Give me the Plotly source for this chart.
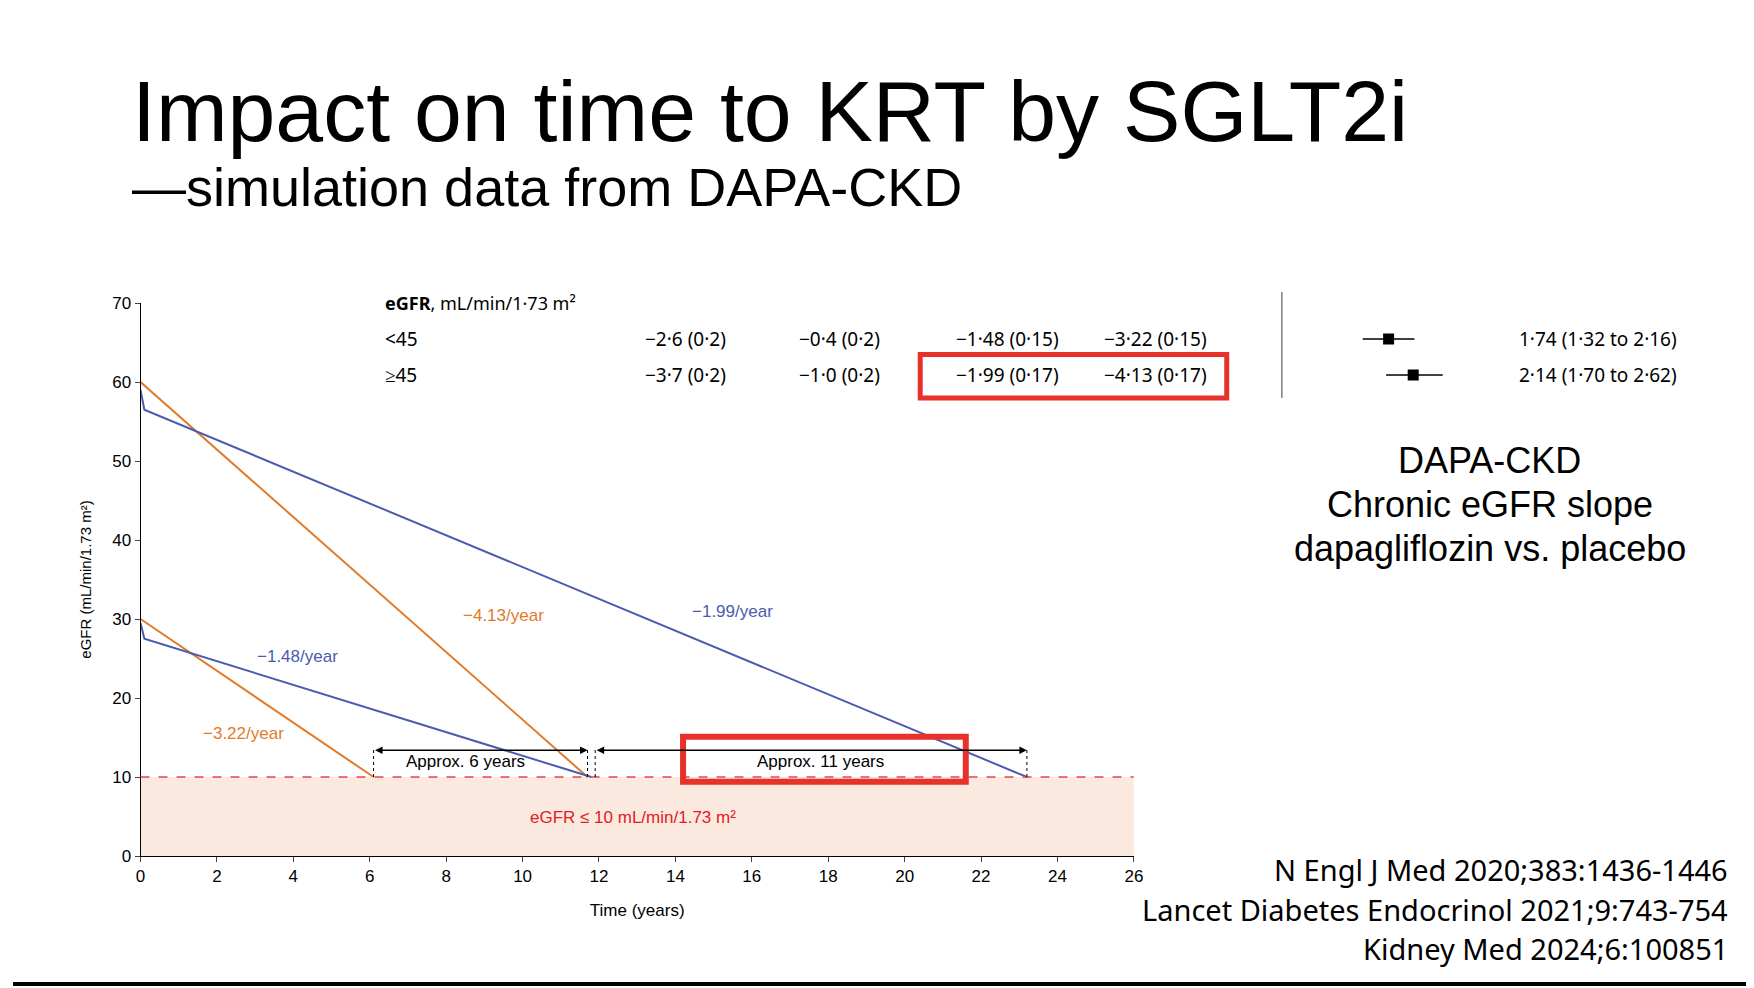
import plotly.graph_objects as go

W, H = 1754, 988
S = 1754 / 1568  # displayed->actual scale

def px(x): return ((x - 11) / 0.992) * S / W
def py(y): return 1 - ((y - 16) / 0.982) * S / H

# Data
years_low_dapa = [0, 0.1, 11.8]
egfr_low_dapa = [29.5, 27.5, 10]
years_low_plac = [0, 6.1]
egfr_low_plac = [30, 10]
years_high_dapa = [0, 0.1, 23.2]
egfr_high_dapa = [59, 56.5, 10]
years_high_plac = [0, 11.7]
egfr_high_plac = [60, 10]
threshold = 10
slope_labels = ["−4.13/year", "−1.99/year", "−1.48/year", "−3.22/year"]

table_rows = ["<45", "≥45"]
table_cols = [["−2·6 (0·2)", "−3·7 (0·2)"], ["−0·4 (0·2)", "−1·0 (0·2)"],
              ["−1·48 (0·15)", "−1·99 (0·17)"], ["−3·22 (0·15)", "−4·13 (0·17)"]]
col_x = [612, 750, 900, 1032]
hr = [1.74, 2.14]
hr_lo = [1.32, 1.70]
hr_hi = [2.16, 2.62]
hr_text = ["1·74 (1·32 to 2·16)", "2·14 (1·70 to 2·62)"]

ORANGE = "#E07B2A"
BLUE = "#4A5BB0"
RED = "#E8312A"

fig = go.Figure()
for xs, ys, c in [(years_high_plac, egfr_high_plac, ORANGE), (years_high_dapa, egfr_high_dapa, BLUE),
                  (years_low_plac, egfr_low_plac, ORANGE), (years_low_dapa, egfr_low_dapa, BLUE)]:
    fig.add_trace(go.Scatter(x=xs, y=ys, mode="lines", line=dict(color=c, width=2), showlegend=False))

# forest plot
for i in range(2):
    fig.add_trace(go.Scatter(x=[hr_lo[i], hr_hi[i]], y=[i + 1, i + 1], mode="lines",
                             line=dict(color="black", width=1.5), xaxis="x2", yaxis="y2", showlegend=False))
fig.add_trace(go.Scatter(x=hr, y=[1, 2], mode="markers", marker=dict(symbol="square", size=11, color="black"),
                         xaxis="x2", yaxis="y2", showlegend=False))

shapes = [
    dict(type="rect", xref="x", yref="y", x0=0, x1=26, y0=0, y1=threshold, fillcolor="#FBE9E0", line_width=0, layer="below"),
    dict(type="line", xref="x", yref="y", x0=0, x1=26, y0=threshold, y1=threshold, line=dict(color="#E8444A", width=1.5, dash="dash")),
    dict(type="line", xref="x2", yref="y2", x0=0, x1=0, y0=-0.31, y1=2.64, line=dict(color="black", width=1.5)),
    dict(type="rect", xref="paper", yref="paper", x0=px(822), x1=px(1096), y0=py(357), y1=py(318),
         line=dict(color=RED, width=5)),
    dict(type="rect", xref="x", yref="y", x0=14.2, x1=21.6, y0=9.4, y1=15.1, line=dict(color=RED, width=6)),
    dict(type="line", xref="paper", yref="paper", x0=0, x1=1, y0=py(881.5), y1=py(881.5), line=dict(color="black", width=4)),
]
for xv in [6.1, 11.7, 11.9, 23.2]:
    shapes.append(dict(type="line", xref="x", yref="y", x0=xv, x1=xv, y0=10, y1=13.8,
                       line=dict(color="black", width=1, dash="dot")))

ann = []
def A(x, y, text, size, color="black", xanchor="left", font="Liberation Sans", xref="paper", yref="paper", **kw):
    ann.append(dict(x=x, y=y, xref=xref, yref=yref, text=text, showarrow=False, xanchor=xanchor,
                    yanchor="middle", font=dict(size=size, color=color, family=font), **kw))

A(px(116), py(100), "Impact on time to KRT by SGLT2i", 86)
A(px(116), py(168), "—simulation data from DAPA-CKD", 54)
A(px(342), py(272), "<b>eGFR</b>, mL/min/1·73 m²", 18, font="Noto Sans")
for j, r in enumerate(table_rows):
    yy = py(304 + 32 * j)
    A(px(342), yy, r, 19, font="Noto Sans")
    for k, col in enumerate(table_cols):
        A(px(col_x[k]), yy, col[j], 19, xanchor="center", font="Noto Sans")
    A(px(1428), yy, hr_text[j], 19, xanchor="center", font="Noto Sans")
for k, t in enumerate(["DAPA-CKD", "Chronic eGFR slope", "dapagliflozin vs. placebo"]):
    A(px(1331), py(413 + 39.5 * k), t, 36, xanchor="center")
for k, t in enumerate(["N Engl J Med 2020;383:1436-1446", "Lancet Diabetes Endocrinol 2021;9:743-754", "Kidney Med 2024;6:100851"]):
    A(px(1546), py(779 + 35.5 * k), t, 29, xanchor="right", font="Noto Sans")

A(9.5, 30.5, slope_labels[0], 17, ORANGE, "center", xref="x", yref="y")
A(15.5, 31, slope_labels[1], 17, BLUE, "center", xref="x", yref="y")
A(4.1, 25.2, slope_labels[2], 17, BLUE, "center", xref="x", yref="y")
A(2.7, 15.5, slope_labels[3], 17, ORANGE, "center", xref="x", yref="y")
A(12.9, 4.9, "eGFR ≤ 10 mL/min/1.73 m²", 17, "#E02020", "center", xref="x", yref="y")
A(8.5, 12, "Approx. 6 years", 17, "black", "center", xref="x", yref="y")
A(17.8, 12, "Approx. 11 years", 17, "black", "center", xref="x", yref="y")
for a, b in [(6.1, 11.7), (11.9, 23.2)]:
    ann.append(dict(x=b, y=13.4, ax=a, ay=13.4, xref="x", yref="y", axref="x", ayref="y", text="",
                    showarrow=True, arrowhead=2, startarrowhead=2, arrowside="end+start",
                    arrowwidth=1.5, arrowcolor="black"))

fig.update_layout(
    width=W, height=H, autosize=False, margin=dict(l=0, r=0, t=0, b=0),
    paper_bgcolor="white", plot_bgcolor="white", font=dict(family="Liberation Sans", color="black"),
    shapes=shapes, annotations=ann,
    xaxis=dict(domain=[px(125), px(1013)], range=[0, 26], tickvals=list(range(0, 27, 2)), ticks="outside",
               showgrid=False, zeroline=False, showline=True, linecolor="black", tickfont=dict(size=17),
               title=dict(text="Time (years)", font=dict(size=17), standoff=18)),
    yaxis=dict(domain=[py(767), py(272)], range=[0, 70], tickvals=list(range(0, 71, 10)), ticks="outside",
               showgrid=False, zeroline=False, showline=True, linecolor="black", tickfont=dict(size=17),
               title=dict(text="eGFR (mL/min/1.73 m²)", font=dict(size=15), standoff=16)),
    xaxis2=dict(domain=[px(1145), px(1310)], range=[0, 3], visible=False, anchor="y2"),
    yaxis2=dict(domain=[py(357), py(262)], range=[2.64, -0.31], visible=False, anchor="x2"),
)
fig.write_html("out.html")
